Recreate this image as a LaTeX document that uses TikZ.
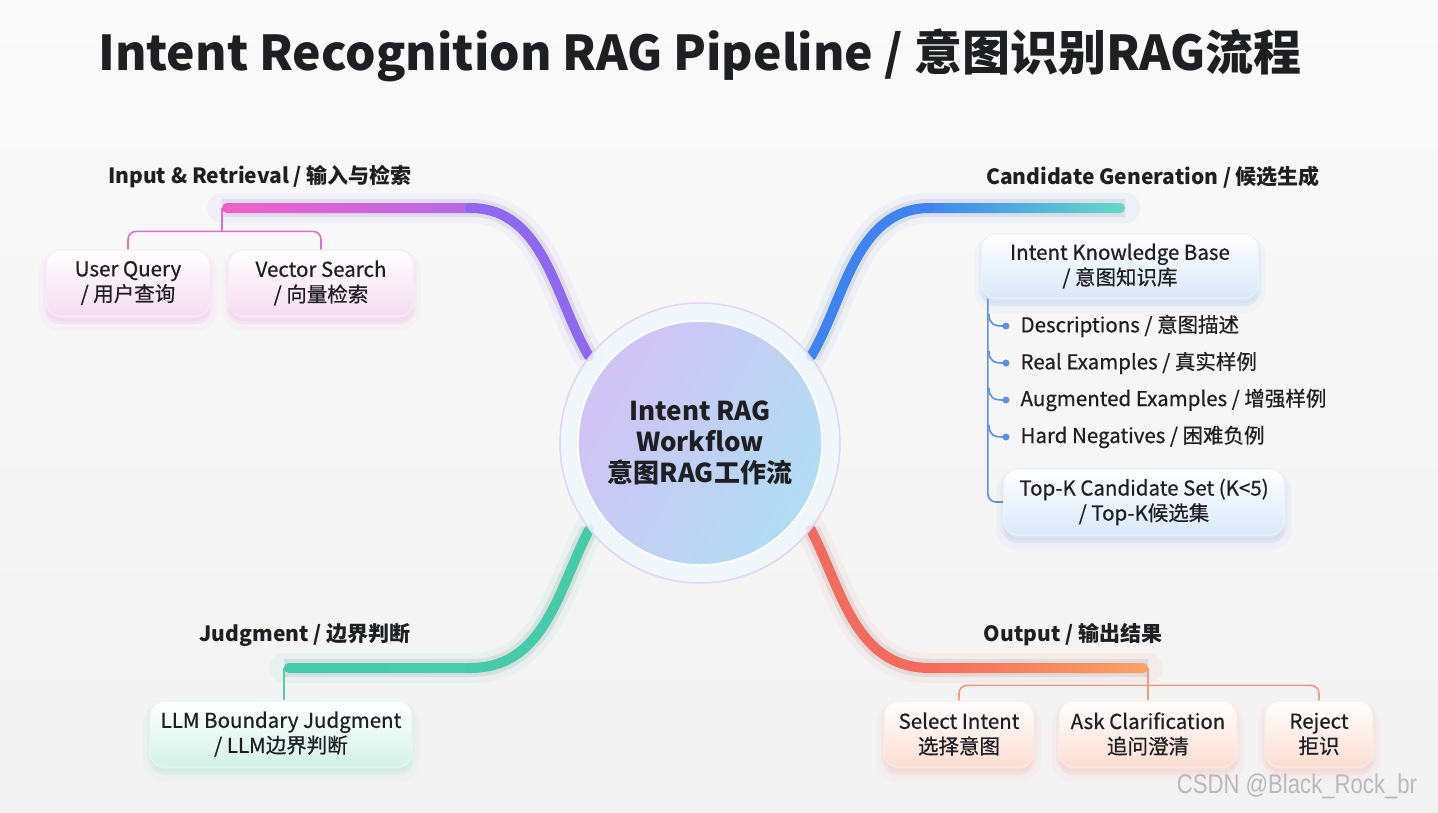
\documentclass[tikz,border=0pt]{standalone}
\usepackage{fontspec}
\usepackage{graphicx}
\setmainfont{Noto Sans CJK SC}
\newfontfamily\medfont{Noto Sans CJK SC}[FakeBold=0.6]
\newfontfamily\wmfont{Liberation Sans}
\usetikzlibrary{calc}
\pgfdeclarelayer{paper}
\pgfdeclarelayer{back}
\pgfsetlayers{paper,back,main}
\definecolor{inkcol}{HTML}{1E1F22}
\definecolor{inpink}{HTML}{F25FC8}
\definecolor{inpurple}{HTML}{B26AE8}
\definecolor{invio}{HTML}{8E68F0}
\definecolor{intwig}{HTML}{D870D0}
\definecolor{inbox}{HTML}{F5DCF0}
\definecolor{candblue}{HTML}{3E83F2}
\definecolor{candteal}{HTML}{64DAC7}
\definecolor{candtwig}{HTML}{5D8FE6}
\definecolor{candbox}{HTML}{DAE8FA}
\definecolor{judgreen}{HTML}{45CBA6}
\definecolor{judtwig}{HTML}{52CFA6}
\definecolor{judbox}{HTML}{D3F2E7}
\definecolor{outred}{HTML}{F46A5C}
\definecolor{outorange}{HTML}{FBA264}
\definecolor{outtwig}{HTML}{F29A80}
\definecolor{outbox}{HTML}{FCDDD1}
\definecolor{hubL}{HTML}{D3C2F5}
\definecolor{hubR}{HTML}{B0DDF3}
\begin{document}
\begin{tikzpicture}[x=1pt,y=-1pt,
		branch/.style={line width=10pt,line cap=round},
		halo/.style={line width=30pt,line cap=round,opacity=0.06,preaction={draw,line width=18pt,opacity=0.07}},
		twig/.style={line width=1.6pt,rounded corners=8pt},
		leaf/.style={rounded corners=14pt,minimum height=66pt,align=center,inner sep=0pt,line width=1.2pt,text=inkcol,font=\medfont\fontsize{20.5}{25}\selectfont},
		leafglow/.style={preaction={draw=#1,fill=#1,line width=14pt,draw opacity=0.035,fill opacity=0.035,transform canvas={yshift=-8pt}},preaction={draw=#1,fill=#1,line width=6pt,draw opacity=0.05,fill opacity=0.05,transform canvas={yshift=-5pt}}},
		headline/.style={text=inkcol,font=\fontsize{21}{25}\selectfont\bfseries},
		item/.style={anchor=west,text=inkcol,font=\medfont\fontsize{20.5}{25}\selectfont}]
	\useasboundingbox (0,0) rectangle (1438,812);
	\begin{pgfonlayer}{paper}
		\shade[top color=white!50!gray!8,bottom color=gray!10] (0,0) rectangle (1438,812);
	\end{pgfonlayer}
	\node (title) at (700,55) [text=inkcol,font=\fontsize{48}{54}\selectfont\bfseries] {Intent Recognition RAG Pipeline / 意图识别RAG流程};
	\node (hub) at (700,443) [circle,minimum size=280pt,fill=white!80!hubR,fill opacity=0.85,draw=hubL!70!white,line width=1.5pt] {};
	\node (core) at (700,443) [circle,minimum size=244pt,left color=hubL,right color=hubR,shading angle=60,draw=white,line width=1.5pt,align=center,text=inkcol,font=\fontsize{26}{31}\selectfont\bfseries] {Intent RAG\\Workflow\\意图RAG工作流};
	\node (inlab) at (260,177) [headline] {Input \& Retrieval / 输入与检索};
	\node (candlab) at (1153,177) [headline] {Candidate Generation / 候选生成};
	\node (judlab) at (305,635) [headline] {Judgment / 边界判断};
	\node (outlab) at (1073,635) [headline] {Output / 输出结果};
	\coordinate (in-end) at (222,208);
	\coordinate (in-knee) at (470,208);
	\coordinate (cand-knee) at (930,208);
	\coordinate (cand-end) at (1125,208);
	\coordinate (jud-end) at (284,668);
	\coordinate (jud-knee) at (470,668);
	\coordinate (out-knee) at (930,668);
	\coordinate (out-end) at (1148,668);
	\begin{pgfonlayer}{back}
		\draw [halo,invio] (hub.142) .. controls (555,300) and (545,208) .. (in-knee) -- (in-end);
		\draw [halo,candblue] (hub.38) .. controls (845,300) and (855,208) .. (cand-knee) -- (cand-end);
		\draw [halo,judgreen] (hub.218) .. controls (558,590) and (545,668) .. (jud-knee) -- (jud-end);
		\draw [halo,outred] (hub.-38) .. controls (842,590) and (855,668) .. (out-knee) -- (out-end);
		\shade [left color=inpink,right color=inpurple,rounded corners=5pt] ([yshift=-5pt]in-end) rectangle ([yshift=5pt,xshift=8pt]in-knee);
		\draw [branch,invio] (hub.142) .. controls (555,300) and (545,208) .. (in-knee);
		\shade [left color=candblue,right color=candteal,rounded corners=5pt] ([yshift=-5pt,xshift=-8pt]cand-knee) rectangle ([yshift=5pt]cand-end);
		\draw [branch,candblue] (hub.38) .. controls (845,300) and (855,208) .. (cand-knee);
		\shade [left color=judgreen,right color=judgreen!85!candteal,rounded corners=5pt] ([yshift=-5pt]jud-end) rectangle ([yshift=5pt,xshift=8pt]jud-knee);
		\draw [branch,judgreen] (hub.218) .. controls (558,590) and (545,668) .. (jud-knee);
		\shade [left color=outred,right color=outorange,rounded corners=5pt] ([yshift=-5pt,xshift=-8pt]out-knee) rectangle ([yshift=5pt]out-end);
		\draw [branch,outred] (hub.-38) .. controls (842,590) and (855,668) .. (out-knee);
	\end{pgfonlayer}
	\node (uq) at (128,283) [leaf,leafglow=inpink,minimum width=164pt,top color=white,bottom color=inbox,draw=inbox!60!white] {User Query\\/ 用户查询};
	\node (vs) at (321,283) [leaf,leafglow=inpink,minimum width=185pt,top color=white,bottom color=inbox,draw=inbox!60!white] {Vector Search\\/ 向量检索};
	\draw [twig,intwig] (in-end) -- ++(0,24);
	\draw [twig,intwig] (uq.north) -- ++(0,-18) -| (vs.north);
	\node (kb) at (1120,266) [leaf,leafglow=candblue,minimum width=277pt,minimum height=64pt,top color=white,bottom color=candbox,draw=candbox!60!white] {Intent Knowledge Base\\/ 意图知识库};
	\node (topk) at (1144,502) [leaf,leafglow=candblue,minimum width=281pt,top color=white,bottom color=candbox,draw=candbox!60!white] {Top-K Candidate Set (K<5)\\/ Top-K候选集};
	\draw [twig,candtwig] ([xshift=7pt]kb.south west) |- (topk.west);
	\foreach \y in {326,363,400,437} {
		\draw [line width=1.6pt,candtwig] (989,\y-12) .. controls (989,\y-2) and (994,\y) .. (1003,\y);
		\fill [candtwig] (1006,\y) circle (3.5);
	}
	\node (desc) at (1017,326) [item] {Descriptions / 意图描述};
	\node (real) at (1017,363) [item] {Real Examples / 真实样例};
	\node (aug) at (1017,400) [item] {Augmented Examples / 增强样例};
	\node (hard) at (1017,437) [item] {Hard Negatives / 困难负例};
	\node (llm) at (281,734) [leaf,leafglow=judgreen,minimum width=262pt,top color=white,bottom color=judbox,draw=judbox!60!white] {LLM Boundary Judgment\\/ LLM边界判断};
	\draw [twig,judtwig] (jud-end) -- (jud-end |- llm.north);
	\node (sel) at (959,734) [leaf,leafglow=outred,minimum width=150pt,top color=white,bottom color=outbox,draw=outbox!60!white] {Select Intent\\选择意图};
	\node (ask) at (1148,734) [leaf,leafglow=outred,minimum width=178pt,top color=white,bottom color=outbox,draw=outbox!60!white] {Ask Clarification\\追问澄清};
	\node (rej) at (1319,734) [leaf,leafglow=outred,minimum width=108pt,top color=white,bottom color=outbox,draw=outbox!60!white] {Reject\\拒识};
	\draw [twig,outtwig] (out-end) -- (ask.north);
	\draw [twig,outtwig] (sel.north) -- ++(0,-15) -| (rej.north);
	\node (wm) at (1297,786) [text=gray!55,font=\wmfont\fontsize{27}{30}\selectfont] {\scalebox{0.82}[1]{CSDN @Black\_Rock\_br}};
\end{tikzpicture}
\end{document}
